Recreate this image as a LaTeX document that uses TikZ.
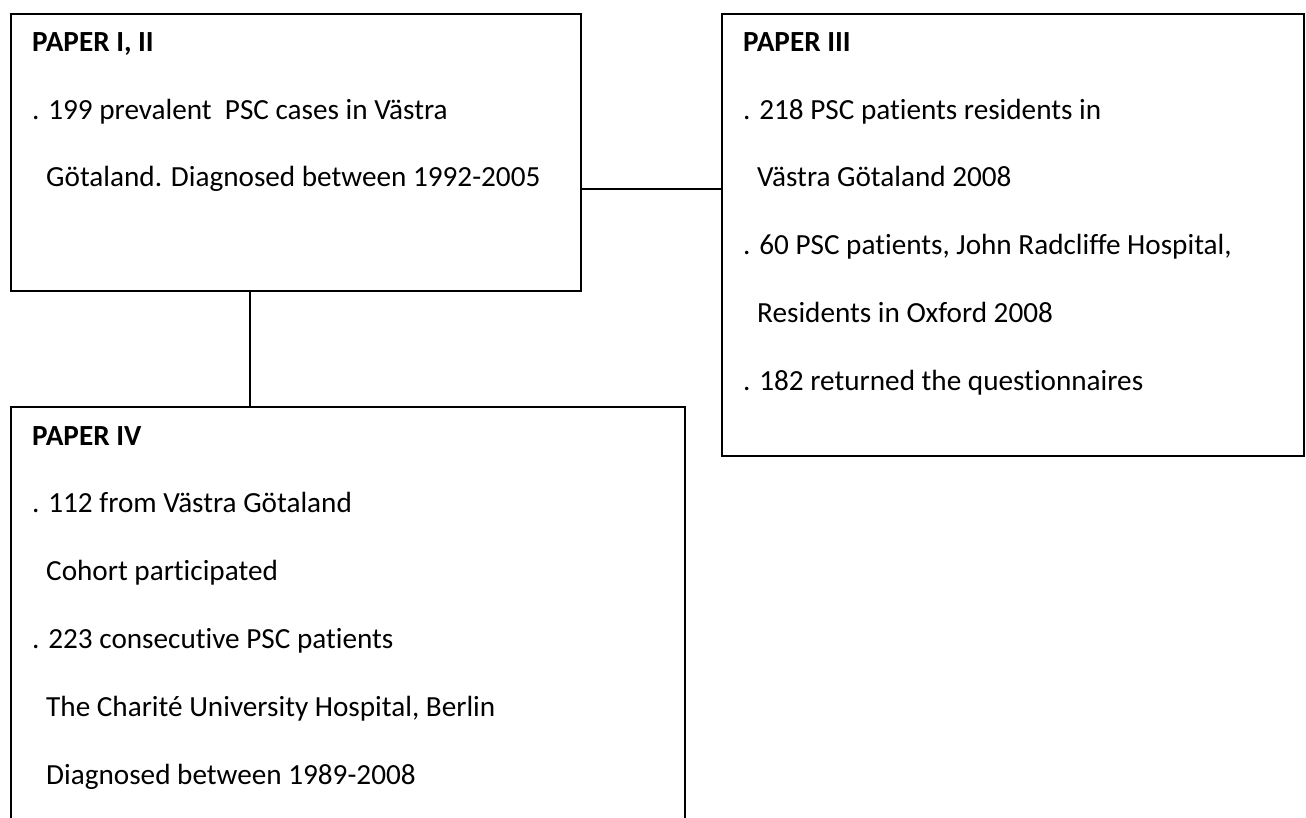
\documentclass[tikz,border=0pt]{standalone}
\usepackage{fontspec}
\setmainfont{Carlito}[RawFeature={-liga}]
\begin{document}
\begin{tikzpicture}[x=1pt,y=-1pt,
  box/.style={draw=black, line width=2pt, anchor=north west, inner sep=0pt},
  txt/.style={anchor=base west, inner sep=0pt, font=\fontsize{29.2}{35}\selectfont},
  hd/.style={txt, font=\fontsize{29.2}{35}\selectfont\bfseries},
  link/.style={draw=black, line width=2pt}]
\useasboundingbox (0,0) rectangle (1306,818);
\clip (0,0) rectangle (1306,818);
% boxes
\node[box, minimum width=570pt, minimum height=277pt] (b1) at (10,13) {};
\node[box, minimum width=582pt, minimum height=442pt] (b2) at (721,13) {};
\node[box, minimum width=674pt, minimum height=460pt] (b3) at (10,406) {};
% connectors
\coordinate (h) at (0,189);
\coordinate (v) at (250,0);
\draw[link] (b1.east |- h) -- (b2.west |- h);
\draw[link] (b1.south -| v) -- (b3.north -| v);
% box 1 text
\node[hd]  (t1a) at (32,52)  {PAPER I, II};
\node[txt] (t1b) at (32,120) {. 199 prevalent\ \ PSC cases in Västra};
\node[txt] (t1c) at (46,187) {Götaland. Diagnosed between 1992-2005};
% box 2 text
\node[hd]  (t2a) at (743,52)  {PAPER III};
\node[txt] (t2b) at (743,120) {. 218 PSC patients residents in};
\node[txt] (t2c) at (757,187) {Västra Götaland 2008};
\node[txt] (t2d) at (743,255) {. 60 PSC patients, John Radcliffe Hospital,};
\node[txt] (t2e) at (757,322) {Residents in Oxford 2008};
\node[txt] (t2f) at (743,390) {. 182 returned the questionnaires};
% box 3 text
\node[hd]  (t3a) at (32,445)  {PAPER IV};
\node[txt] (t3b) at (32,512)  {. 112 from Västra Götaland};
\node[txt] (t3c) at (46,580)  {Cohort participated};
\node[txt] (t3d) at (32,648)  {. 223 consecutive PSC patients};
\node[txt] (t3e) at (46,716)  {The Charité University Hospital, Berlin};
\node[txt] (t3f) at (46,784)  {Diagnosed between 1989-2008};
\end{tikzpicture}
\end{document}
